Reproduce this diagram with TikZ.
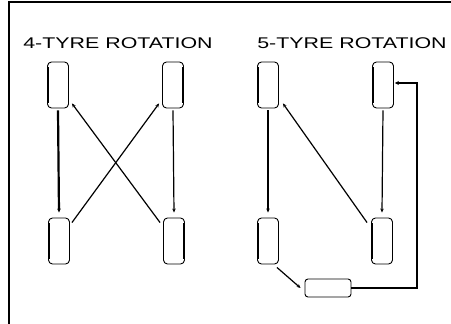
\documentclass[tikz,border=0pt]{standalone}
\usepackage{fontspec}
\setmainfont{Liberation Sans}
\usetikzlibrary{arrows.meta}
\begin{document}
\begin{tikzpicture}[x=1pt,y=-1pt,
  tyre/.style={draw,rounded corners=4pt,line width=0.9pt,minimum width=21pt,minimum height=46pt,inner sep=0pt},
  spare/.style={draw,rounded corners=3pt,line width=0.9pt,minimum width=46pt,minimum height=18pt,inner sep=0pt},
  title/.style={font=\fontsize{15.5}{15.5}\selectfont,inner sep=0pt},
  link/.style={line width=1.2pt,-{Stealth[length=4pt,width=3.5pt]}},
  heavy/.style={line width=2.4pt},
  frameline/.style={line width=1.4pt}]
\useasboundingbox (0,0) rectangle (451,324);
% frame
\coordinate (f1) at (9,324);
\coordinate (f2) at (9,2);
\coordinate (f3) at (451,2);
\draw[frameline] (f1) -- (f2) -- (f3);
% titles
\node[title] (t4) at (118,43) {\scalebox{1.38}[1]{4-TYRE ROTATION}};
\node[title] (t5) at (352,43) {\scalebox{1.38}[1]{5-TYRE ROTATION}};
% 4-tyre
\node[tyre] (a) at (58,85) {};
\node[tyre] (b) at (173,85) {};
\node[tyre] (c) at (59,241) {};
\node[tyre] (d) at (174,241) {};
\draw[heavy] ([xshift=0.8,yshift=-5]a.north west) -- ([xshift=0.8,yshift=5]a.south west);
\draw[heavy] ([xshift=-0.8,yshift=-5]b.north east) -- ([xshift=-0.8,yshift=5]b.south east);
\draw[heavy] ([xshift=0.8,yshift=-5]c.north west) -- ([xshift=0.8,yshift=5]c.south west);
\draw[heavy] ([xshift=-0.8,yshift=-5]d.north east) -- ([xshift=-0.8,yshift=5]d.south east);
\draw[link,line width=2.2pt] ([yshift=-2]a.south) -- ([yshift=5]c.north);
\draw[link] ([yshift=-2]b.south) -- ([yshift=5]d.north);
\draw[link] ([xshift=2,yshift=-5]c.north east) -- ([xshift=-3,yshift=5]b.south west);
\draw[link] ([xshift=-3,yshift=-5]d.north west) -- ([xshift=3,yshift=5]a.south east);
% 5-tyre
\node[tyre] (e) at (268,85) {};
\node[tyre] (f) at (383,85) {};
\node[tyre] (g) at (268,241) {};
\node[tyre] (h) at (382,241) {};
\node[spare] (s) at (328,288) {};
\draw[heavy] ([xshift=0.8,yshift=-5]e.north west) -- ([xshift=0.8,yshift=5]e.south west);
\draw[heavy] ([xshift=0.8,yshift=-5]f.north west) -- ([xshift=0.8,yshift=5]f.south west);
\draw[heavy] ([xshift=0.8,yshift=-5]g.north west) -- ([xshift=0.8,yshift=5]g.south west);
\draw[heavy] ([xshift=0.8,yshift=-5]h.north west) -- ([xshift=0.8,yshift=5]h.south west);
\draw[link] ([yshift=-2]e.south) -- ([yshift=5]g.north);
\draw[link] ([yshift=-2]f.south) -- ([yshift=5]h.north);
\draw[link] ([xshift=-4,yshift=-5]h.north west) -- ([xshift=4,yshift=5]e.south east);
\draw[link] ([xshift=-2,yshift=-3]g.south east) -- ([xshift=-4]s.west);
\coordinate (r1) at (417,288);
\coordinate (r2) at (417,83);
\draw[line width=2pt,-{Stealth[length=4pt,width=4pt]}] (s.east) -- (r1) -- (r2) -- ([xshift=1,yshift=2]f.east);
\end{tikzpicture}
\end{document}
